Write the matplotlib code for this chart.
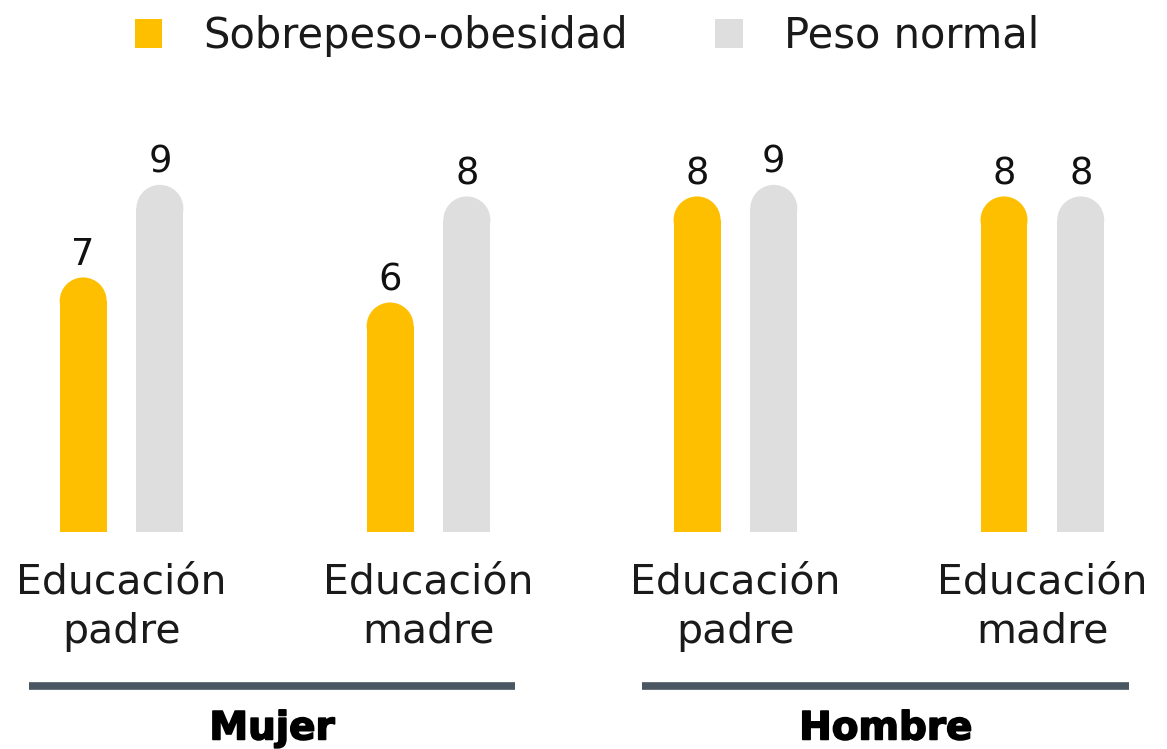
import matplotlib
matplotlib.use('Agg')
import matplotlib.pyplot as plt
import matplotlib.patheffects as pe
from matplotlib.patches import Ellipse, Patch

categorias = ['Educación\npadre', 'Educación\nmadre', 'Educación\npadre', 'Educación\nmadre']
grupos = ['Mujer', 'Hombre']
series = ['Sobrepeso-obesidad', 'Peso normal']

# heights, labels as printed above them
obesidad = [6.6, 5.95, 8.7, 8.7]
normal = [9.0, 8.7, 9.0, 8.7]
obesidad_txt = ['7', '6', '8', '8']
normal_txt = ['9', '8', '9', '8']

AMARILLO = '#FDBF00'
GRIS = '#DEDEDE'
LINEA = '#4A5662'

W_PX, H_PX = 1167, 749
fig = plt.figure(figsize=(W_PX / 100, H_PX / 100), dpi=100)

ax_bottom_px = 532
ax_height_px = 405
ax = fig.add_axes([0, (H_PX - ax_bottom_px) / H_PX, 1, ax_height_px / H_PX])
xmin, xmax = -0.396, 3.406
ymax = 10.5
ax.set_xlim(xmin, xmax)
ax.set_ylim(0, ymax)
ax.axis('off')

width = 0.153
offset = 0.125
# size of a pixel in data units, used to keep the caps round
ux = (xmax - xmin) / W_PX
uy = ymax / ax_height_px
cap_h = width / 2 * uy / ux

for vals, txts, color, sign in [(obesidad, obesidad_txt, AMARILLO, -1),
                                (normal, normal_txt, GRIS, 1)]:
    xs = [i + sign * offset for i in range(len(vals))]
    ax.bar(xs, [v - cap_h for v in vals], width=width, color=color,
           linewidth=0)
    for x, v, t in zip(xs, vals, txts):
        ax.add_patch(Ellipse((x, v - cap_h), width, 2 * cap_h,
                             facecolor=color, edgecolor='none'))
        ax.text(x, v + 4 * uy, t, ha='center', va='bottom', fontsize=26.5,
                color='#111111')

xt = ax.get_xaxis_transform()
for i, cat in enumerate(categorias):
    ax.text(i, -0.075, cat, transform=xt, ha='center', va='top',
            fontsize=29.5, color='#1a1a1a', linespacing=1.3)

for g, nombre in enumerate(grupos):
    centro = 2 * g + 0.49
    ax.plot([centro - 0.793, centro + 0.793], [-0.38, -0.38], transform=xt,
            color=LINEA, linewidth=5.5, clip_on=False, solid_capstyle='butt')
    ax.text(centro, -0.485, nombre, transform=xt, ha='center', va='center',
            fontsize=28, fontweight='heavy', color='black',
            path_effects=[pe.withStroke(linewidth=1.2, foreground='black')])

handles = [Patch(facecolor=AMARILLO, edgecolor='none'),
           Patch(facecolor=GRIS, edgecolor='none')]
fig.legend(handles, series, loc='center', bbox_to_anchor=(0.503, 1 - 36 / H_PX),
           ncol=2, frameon=False, fontsize=30, handlelength=0.65,
           handleheight=0.68, handletextpad=1.0, columnspacing=2.1,
           labelcolor='#1a1a1a')

fig.savefig('out.png', dpi=100, facecolor='white')
